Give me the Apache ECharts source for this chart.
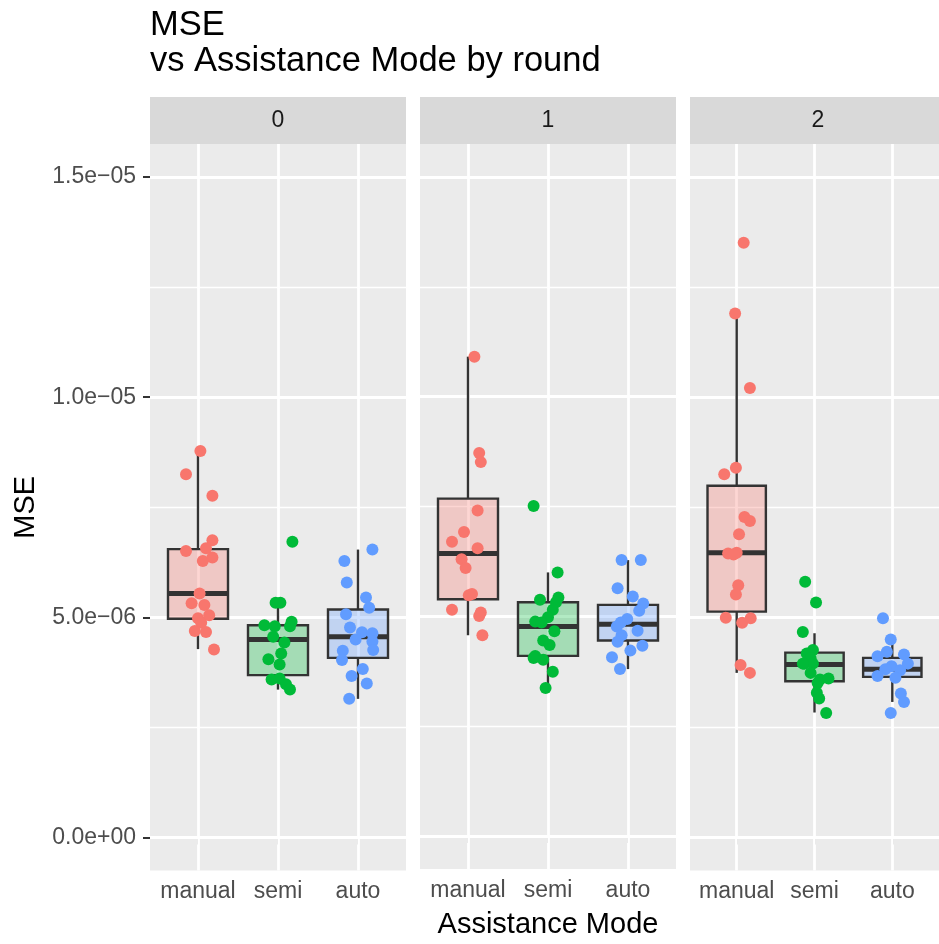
<!DOCTYPE html>
<html>
<head>
<meta charset="utf-8">
<script src="https://cdn.jsdelivr.net/npm/echarts@6/dist/echarts.min.js"></script>
<style>
  html, body { margin: 0; padding: 0; background: #fff; }
  #main { width: 939px; height: 944px; }
</style>
</head>
<body>
<div id="main"></div>
<script>
var modes = ['manual', 'semi', 'auto'];
var rounds = ['0', '1', '2'];
var modeColors = ['#F8766D', '#00BA38', '#619CFF'];
var boxFills = ['rgba(248,118,109,0.3)', 'rgba(0,186,56,0.3)', 'rgba(97,156,255,0.3)'];
var yTicks = [0, 5e-6, 1e-5, 1.5e-5];
var yMinor = [2.5e-6, 7.5e-6, 1.25e-5];
var U = 1e-6; // values below are MSE in units of 1e-6

// box stats per mode: [lower whisker, q1, median, q3, upper whisker]
var box0 = [[4.28, 4.97, 5.54, 6.55, 8.78], [3.36, 3.69, 4.50, 4.82, 5.33], [3.15, 4.08, 4.56, 5.18, 6.54]];
var box1 = [[4.57, 5.39, 6.43, 7.68, 10.91], [3.37, 4.10, 4.77, 5.32, 6.00], [3.80, 4.45, 4.82, 5.26, 6.28]];
var box2 = [[3.74, 5.13, 6.47, 7.99, 11.90], [2.84, 3.55, 3.93, 4.20, 4.64], [3.08, 3.65, 3.82, 4.08, 4.50]];

// jittered points: [x (1 manual, 2 semi, 3 auto), MSE]
var pts0 = [
  [1.03, 8.78], [0.85, 8.25], [1.18, 7.76], [1.18, 6.75], [0.85, 6.51], [1.10, 6.57], [1.18, 6.36], [1.06, 6.28], [1.02, 5.54],
  [0.92, 5.32], [1.08, 5.28], [1.14, 5.05], [1.00, 4.98], [1.04, 4.88], [0.96, 4.69], [1.10, 4.67], [1.20, 4.27],
  [2.18, 6.72], [1.97, 5.33], [2.03, 5.33], [1.83, 4.82], [1.96, 4.80], [2.17, 4.90], [2.15, 4.80], [1.94, 4.56],
  [2.08, 4.43], [2.04, 4.18], [1.88, 4.05], [2.02, 3.93], [1.92, 3.59], [2.02, 3.61], [2.10, 3.48], [2.15, 3.36],
  [3.18, 6.54], [2.83, 6.28], [2.86, 5.79], [3.10, 5.45], [3.14, 5.22], [2.85, 5.07], [2.90, 4.77], [3.05, 4.66], [3.18, 4.64],
  [2.97, 4.50], [3.18, 4.45], [3.19, 4.26], [2.81, 4.24], [2.80, 4.03], [3.06, 3.83], [2.92, 3.67], [3.11, 3.50], [2.89, 3.15]
];
var pts1 = [
  [1.08, 10.91], [1.14, 8.72], [1.16, 8.51], [1.12, 7.41], [0.95, 6.92], [0.80, 6.70], [1.12, 6.55], [0.92, 6.30],
  [0.97, 6.10], [1.01, 5.48], [1.05, 5.51], [0.80, 5.15], [1.16, 5.09], [1.14, 5.01], [1.18, 4.57],
  [1.82, 7.51], [2.12, 6.00], [1.90, 5.38], [2.13, 5.43], [2.10, 5.32], [2.06, 5.15], [2.00, 4.98], [1.84, 4.88], [1.92, 4.86],
  [2.08, 4.66], [1.94, 4.45], [2.02, 4.35], [1.84, 4.10], [1.94, 4.01], [1.82, 4.05], [2.06, 3.74], [1.97, 3.37],
  [2.92, 6.28], [3.16, 6.28], [2.87, 5.64], [3.06, 5.45], [3.19, 5.29], [3.14, 5.13], [2.99, 4.94], [2.91, 4.86],
  [2.86, 4.77], [3.12, 4.67], [2.92, 4.57], [2.87, 4.42], [3.18, 4.33], [3.03, 4.22], [2.80, 4.07], [2.90, 3.80]
];
var pts2 = [
  [1.09, 13.51], [0.98, 11.90], [1.17, 10.21], [0.99, 8.40], [0.84, 8.25], [1.10, 7.28], [1.17, 7.19], [1.03, 6.89], [0.89, 6.45],
  [1.00, 6.47], [0.96, 6.43], [1.02, 5.73], [0.99, 5.52], [0.86, 4.99], [1.07, 4.88], [1.18, 4.98], [1.05, 3.92], [1.17, 3.74],
  [1.88, 5.81], [2.02, 5.34], [1.85, 4.67], [1.98, 4.26], [1.90, 4.18], [1.95, 4.07], [1.87, 3.95], [1.98, 3.95],
  [1.85, 3.95], [1.95, 3.74], [2.07, 3.59], [2.18, 3.61], [2.04, 3.51], [2.03, 3.29], [2.06, 3.16], [2.15, 2.83],
  [2.88, 4.98], [2.98, 4.50], [2.93, 4.22], [2.81, 4.12], [3.15, 4.16], [3.20, 3.95], [2.99, 3.89], [2.91, 3.82],
  [3.10, 3.80], [2.81, 3.67], [3.04, 3.63], [3.11, 3.27], [3.15, 3.08], [2.98, 2.83]
];

var boxes = [box0, box1, box2];
var points = [pts0, pts1, pts2];
var panelLeft = [150, 420, 690];
var panelW = 256, panelTop = 144, panelH = 726.6, stripTop = 97;
var FONT = 'Liberation Sans, Arial, Helvetica, sans-serif';

function sciLabel(v) {
  var parts = v.toExponential(1).split('e');
  var ex = parseInt(parts[1], 10);
  return parts[0] + 'e' + (ex < 0 ? '\u2212' : '+') + String(Math.abs(ex)).padStart(2, '0');
}

function edgeStyle(w) {
  return { stroke: '#333333', lineWidth: w, fill: null };
}

function renderBox(params, api) {
  var x = api.value(0);
  var lo = api.coord([x, api.value(1)]);
  var q1 = api.coord([x, api.value(2)]);
  var md = api.coord([x, api.value(3)]);
  var q3 = api.coord([x, api.value(4)]);
  var hi = api.coord([x, api.value(5)]);
  var half = api.size([0.75, 0])[0] / 2;
  var cx = lo[0];
  return {
    type: 'group',
    children: [
      { type: 'line', shape: { x1: cx, y1: hi[1], x2: cx, y2: q3[1] }, style: edgeStyle(2.4) },
      { type: 'line', shape: { x1: cx, y1: q1[1], x2: cx, y2: lo[1] }, style: edgeStyle(2.4) },
      { type: 'rect', shape: { x: cx - half, y: q3[1], width: half * 2, height: q1[1] - q3[1] },
        style: { fill: boxFills[params.dataIndex], stroke: '#333333', lineWidth: 2.4 } },
      { type: 'line', shape: { x1: cx - half, y1: md[1], x2: cx + half, y2: md[1] }, style: edgeStyle(5) }
    ]
  };
}

var grids = [], xAxes = [], yAxes = [], series = [], graphics = [];

rounds.forEach(function (r, i) {
  grids.push({
    left: panelLeft[i], top: panelTop, width: panelW, height: panelH,
    show: true, backgroundColor: '#EBEBEB', borderWidth: 0
  });
  xAxes.push({
    type: 'value', gridIndex: i, min: 0.4, max: 3.6,
    axisLine: { show: false },
    splitLine: { show: false },
    axisTick: { show: true, length: 7, customValues: [1, 2, 3], lineStyle: { color: '#333333', width: 2 } },
    axisLabel: {
      customValues: [1, 2, 3], margin: 10, color: '#4D4D4D', fontSize: 23, fontFamily: FONT,
      formatter: function (v) { return modes[Math.round(v) - 1] || ''; }
    },
    name: i === 1 ? 'Assistance Mode' : '',
    nameLocation: 'middle', nameGap: 41,
    nameTextStyle: { color: '#000', fontSize: 29, fontFamily: FONT }
  });
  yAxes.push({
    type: 'value', gridIndex: i, min: -0.75e-6, max: 15.75e-6,
    axisLine: { show: false },
    splitLine: { show: false },
    axisTick: { show: i === 0, length: 7, customValues: yTicks, lineStyle: { color: '#333333', width: 2 } },
    axisLabel: {
      show: i === 0, customValues: yTicks, margin: 14, color: '#4D4D4D', fontSize: 23, fontFamily: FONT,
      formatter: sciLabel
    },
    name: i === 0 ? 'MSE' : '',
    nameLocation: 'middle', nameGap: 110,
    nameTextStyle: { color: '#000', fontSize: 29, fontFamily: FONT }
  });

  // panel grid lines
  var lines = [];
  yTicks.forEach(function (v) { lines.push({ yAxis: v, lineStyle: { width: 2.8 } }); });
  yMinor.forEach(function (v) { lines.push({ yAxis: v, lineStyle: { width: 1.4 } }); });
  [1, 2, 3].forEach(function (v) { lines.push({ xAxis: v, lineStyle: { width: 2.8 } }); });
  series.push({
    type: 'scatter', xAxisIndex: i, yAxisIndex: i, data: [], z: 1, silent: true,
    markLine: {
      z: 1, silent: true, symbol: ['none', 'none'], label: { show: false }, animation: false, precision: 12,
      lineStyle: { color: '#FFFFFF', type: 'solid' },
      data: lines
    }
  });

  series.push({
    type: 'custom', xAxisIndex: i, yAxisIndex: i, z: 6,
    renderItem: renderBox,
    data: boxes[i].map(function (b, k) { return [k + 1].concat(b.map(function (v) { return v * U; })); })
  });

  series.push({
    type: 'scatter', xAxisIndex: i, yAxisIndex: i, z: 7, symbolSize: 12,
    data: points[i].map(function (p) { return [p[0], p[1] * U]; }),
    itemStyle: {
      opacity: 1,
      color: function (p) { return modeColors[Math.round(p.value[0]) - 1]; }
    }
  });

  graphics.push({
    type: 'rect', left: panelLeft[i], top: stripTop,
    shape: { width: panelW, height: panelTop - stripTop },
    style: { fill: '#D9D9D9' }
  });
  graphics.push({
    type: 'text', x: panelLeft[i] + panelW / 2, y: (stripTop + panelTop) / 2,
    style: { text: r, fill: '#1A1A1A', font: '23px ' + FONT, textAlign: 'center', textVerticalAlign: 'middle' }
  });
});

var myChart = echarts.init(document.getElementById('main'));
var option = {
  animation: false,
  backgroundColor: '#FFFFFF',
  title: {
    text: 'MSE\nvs Assistance Mode by round',
    left: 150, top: 7, padding: 0,
    textStyle: { color: '#000', fontSize: 34.5, fontWeight: 'normal', lineHeight: 36, fontFamily: FONT }
  },
  grid: grids,
  xAxis: xAxes,
  yAxis: yAxes,
  graphic: graphics,
  series: series
};
myChart.setOption(option);
</script>
</body>
</html>
